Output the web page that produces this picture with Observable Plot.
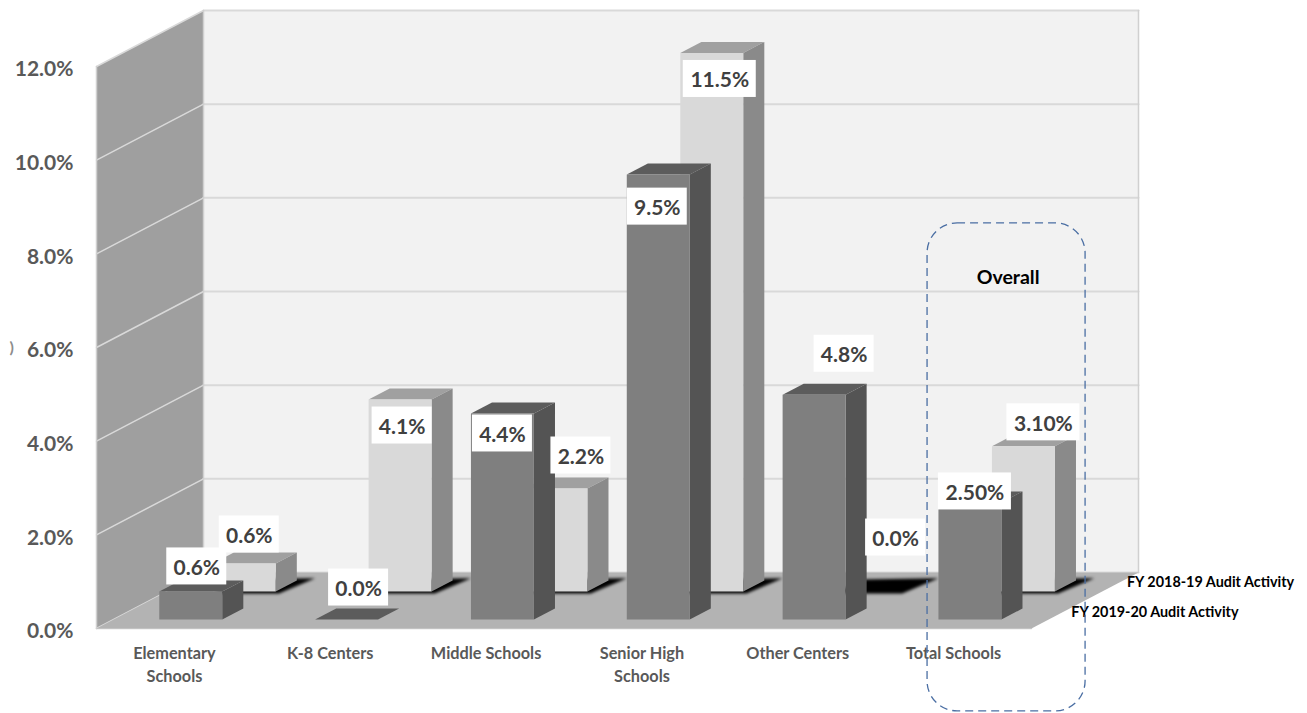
<!DOCTYPE html>
<html>
<head>
<meta charset="utf-8">
<style>
  html, body { margin: 0; padding: 0; background: #fff; }
  svg { display: block; }
</style>
<script src="https://cdn.jsdelivr.net/npm/d3@7"></script>
<script src="https://cdn.jsdelivr.net/npm/@observablehq/plot@0.6"></script>
</head>
<body>
<div id="chart"></div>
<script>
// Audit activity by school type, two fiscal years.
const categories = ["Elementary\nSchools", "K-8 Centers", "Middle Schools", "Senior High\nSchools", "Other Centers", "Total Schools"];
const fy1920 = [0.6, 0.0, 4.4, 9.5, 4.8, 2.5];
const fy1819 = [0.6, 4.1, 2.2, 11.5, 0.0, 3.1];
const fy1920Labels = ["0.6%", "0.0%", "4.4%", "9.5%", "4.8%", "2.50%"];
const fy1819Labels = ["0.6%", "4.1%", "2.2%", "11.5%", "0.0%", "3.10%"];
const yTicks = [0, 2, 4, 6, 8, 10, 12];

// Pixel size of one category and of one percentage point.
const unitX = 935 / 6;
const unitY = 562 / 12;
// The floor recedes 107px right and 56px up; depth runs 0 (front) to 1 (back).
const skewX = 107 / unitX;
const skewY = 56 / unitY;
const project = (u, v, d) => ({x: u + d * skewX, y: v + d * skewY});

const gap = 0.293, barWidth = 0.404;
const rows = [
  {name: "fy1920", values: fy1920, labels: fy1920Labels, d0: 0.16, d1: 0.357,
   front: "#7f7f7f", side: "#545454", top: "#5c5c5c", zeroFace: true},
  {name: "fy1819", values: fy1819, labels: fy1819Labels, d0: 0.66, d1: 0.857,
   front: "#d9d9d9", side: "#8a8a8a", top: "#a0a0a0", zeroFace: false}
];

// Every polygon becomes its own closed, filled line.
const polygon = (id, fill, corners) =>
  corners.map(([u, v, d]) => ({id, fill, ...project(u, v, d)}));
const closed = (data, extra = {}) =>
  Plot.line(data, {x: "x", y: "y", z: "id", fill: "fill", curve: "linear-closed", ...extra});

const walls = [
  ...polygon("back", "#f2f2f2", [[0, 0, 1], [6, 0, 1], [6, 12, 1], [0, 12, 1]]),
  ...polygon("left", "#9f9f9f", [[0, 0, 0], [0, 0, 1], [0, 12, 1], [0, 12, 0]])
];
const floor = polygon("floor", "#b3b3b3", [[0, 0, 0], [6, 0, 0], [6, 0, 1], [0, 0, 1]]);

const gridBack = yTicks.flatMap(v => [
  {id: "b" + v, ...project(0, v, 1)}, {id: "b" + v, ...project(6, v, 1)}
]);
const gridLeft = yTicks.flatMap(v => [
  {id: "l" + v, ...project(0, v, 0)}, {id: "l" + v, ...project(0, v, 1)}
]);
const wallEdges = [
  {id: "e1", ...project(0, 0, 0)}, {id: "e1", ...project(0, 12, 0)},
  {id: "e2", ...project(0, 0, 1)}, {id: "e2", ...project(0, 12, 1)},
  {id: "e3", ...project(6, 0, 1)}, {id: "e3", ...project(6, 12, 1)},
  {id: "e4", ...project(0, 0, 0)}, {id: "e4", ...project(6, 0, 0)}
];

// Faces of one bar: top, side, front, painted back to front.
function barFaces(row, i) {
  const v = row.values[i], a = i + gap, b = a + barWidth, {d0, d1} = row;
  const key = `${row.name}-${i}`;
  if (v === 0 && !row.zeroFace) return [];
  const top = polygon(key + "t", row.top, [[a, v, d0], [b, v, d0], [b, v, d1], [a, v, d1]]);
  if (v === 0) return top;
  return [
    ...top,
    ...polygon(key + "s", row.side, [[b, 0, d0], [b, 0, d1], [b, v, d1], [b, v, d0]]),
    ...polygon(key + "f", row.front, [[a, 0, d0], [b, 0, d0], [b, v, d0], [a, v, d0]])
  ];
}

// Contact shadows lie under the rear row only.
const shadowRow = rows[1];
const shadows = categories.flatMap((_, i) => {
  const a = i + gap, b = a + barWidth;
  return polygon("sh" + i, "#000", [
    [a, -0.04, shadowRow.d0], [b + 0.02, -0.04, shadowRow.d0],
    [b + 0.09, 0, shadowRow.d1 + 0.04], [a, 0, shadowRow.d1 + 0.02]
  ]);
});

const backBars = categories.flatMap((_, i) => barFaces(rows[1], i));
const frontBars = categories.flatMap((_, i) => barFaces(rows[0], i));

// Label-box centres, offset in pixels from each bar's top front centre.
const nudges = {
  fy1920: [[6, -25], [12, -32], [0, 20], [-1, 32], [30, -41], [5, -11]],
  fy1819: [[5, -29], [2, 26], [25, -33], [8, 26], [28, -54], [20, -24]]
};
const labelBoxes = rows.flatMap(row => row.values.map((v, i) => {
  const centre = project(i + gap + barWidth / 2, v, row.d0);
  const [nx, ny] = nudges[row.name][i];
  const cx = centre.x + nx / unitX, cy = centre.y - ny / unitY;
  const half = (row.labels[i].length > 4 ? 36.5 : 30) / unitX;
  return {text: row.labels[i], cx, cy, x1: cx - half, x2: cx + half,
          y1: cy - 18.5 / unitY, y2: cy + 18.5 / unitY};
}));

const font = "Lato, 'Open Sans', sans-serif";
const legendFront = project(6, 0, 0.26);
const legendBack = project(6, 0, 0.78);
// Extent of the dashed frame around the overall figures, in axis units.
const overallFrame = {x1: 5.333, x2: 6.347, y1: -1.77, y2: 8.65};

const chart = Plot.plot({
  width: 1307,
  height: 713,
  marginLeft: 96,
  marginRight: 276,
  marginTop: 66,
  marginBottom: 85,
  style: {background: "#fff", fontFamily: font, overflow: "visible"},
  x: {domain: [0, 6]},
  y: {domain: [0, 12]},
  marks: [
    closed(walls),
    Plot.line(gridBack, {x: "x", y: "y", z: "id", stroke: "#d9d9d9", strokeWidth: 2}),
    Plot.line(gridLeft, {x: "x", y: "y", z: "id", stroke: "#d9d9d9", strokeWidth: 1.5}),
    Plot.line(wallEdges, {x: "x", y: "y", z: "id", stroke: "#d0d0d0", strokeWidth: 1.5}),
    closed(floor),
    closed(shadows, {imageFilter: "blur(1.5px)"}),
    closed(backBars),
    closed(frontBars),
    Plot.axisY({
      ticks: yTicks, tickSize: 0, tickPadding: 23, label: null, dy: 3,
      tickFormat: d => d.toFixed(1) + "%",
      fontSize: 21, fontWeight: 700, fill: "#595959"
    }),
    Plot.axisX({
      ticks: categories.map((_, i) => i + 0.5), tickSize: 0, tickPadding: 14, label: null,
      tickFormat: d => categories[d - 0.5],
      fontSize: 16.3, fontWeight: 700, fill: "#595959", lineHeight: 1.4
    }),
    // Remnant of a clipped axis title at the far left.
    Plot.text([")"], {
      y: 6, frameAnchor: "left", dx: -87, textAnchor: "start",
      fontSize: 16, fontWeight: 700, fill: "#8c8c8c"
    }),
    Plot.rect(labelBoxes, {x1: "x1", x2: "x2", y1: "y1", y2: "y2", fill: "#fff"}),
    Plot.text(labelBoxes, {
      x: "cx", y: "cy", dy: 1.5, text: "text", fontSize: 21, fontWeight: 700, fill: "#404040"
    }),
    Plot.text(["FY 2019-20 Audit Activity"], {
      x: legendFront.x, y: legendFront.y, dx: 12, dy: -2, textAnchor: "start",
      fontSize: 14.4, fontWeight: 700, fill: "#000"
    }),
    Plot.text(["FY 2018-19 Audit Activity"], {
      x: legendBack.x, y: legendBack.y, dx: 12, dy: -2, textAnchor: "start",
      fontSize: 14.4, fontWeight: 700, fill: "#000"
    }),
    Plot.rect([overallFrame], {
      x1: "x1", x2: "x2", y1: "y1", y2: "y2", rx: 30,
      fill: "none", stroke: "#4a6ea3", strokeWidth: 1.3, strokeDasharray: "8,5"
    }),
    Plot.text(["Overall"], {
      x: 5.85, y: 7.5, fontSize: 19.5, fontWeight: 700, fill: "#000"
    })
  ]
});
document.getElementById("chart").append(chart);
</script>
</body>
</html>
